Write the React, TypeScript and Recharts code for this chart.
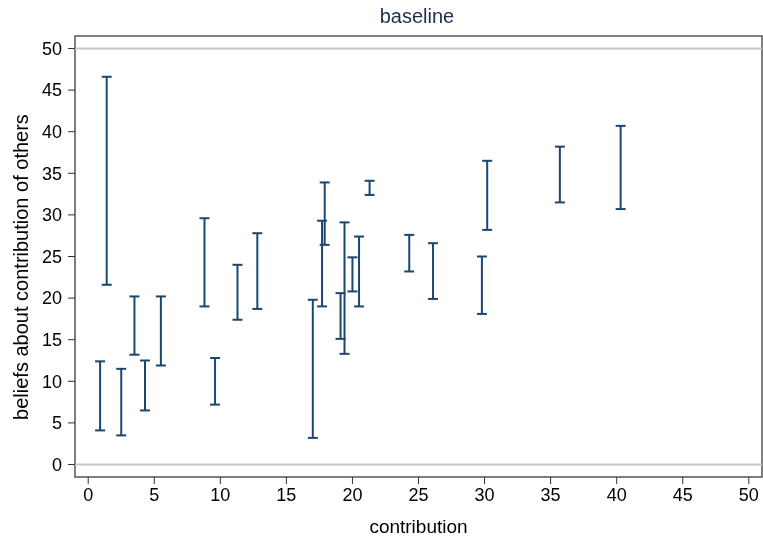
import { ScatterChart, Scatter, ErrorBar, XAxis, YAxis, ReferenceLine, ReferenceArea } from 'recharts';

// one row per subject: contribution and range of beliefs about others
const contribution = [0.9, 1.4, 2.5, 3.5, 4.3, 5.5, 8.8, 9.6, 11.3, 12.8, 17.0, 17.7, 17.9, 19.1, 19.4, 20.0, 20.5, 21.3, 24.3, 26.1, 29.8, 30.2, 35.7, 40.3];
const beliefLow = [4.1, 21.6, 3.5, 13.2, 6.5, 11.9, 19.0, 7.2, 17.4, 18.7, 3.2, 19.0, 26.4, 15.1, 13.3, 20.8, 19.0, 32.4, 23.2, 19.9, 18.1, 28.2, 31.5, 30.7];
const beliefHigh = [12.4, 46.6, 11.5, 20.2, 12.5, 20.2, 29.6, 12.8, 24.0, 27.8, 19.8, 29.3, 33.9, 20.6, 29.1, 24.9, 27.4, 34.1, 27.6, 26.6, 25.0, 36.5, 38.2, 40.7];
const xTicks = [0, 5, 10, 15, 20, 25, 30, 35, 40, 45, 50];
const yTicks = [0, 5, 10, 15, 20, 25, 30, 35, 40, 45, 50];

const rows = contribution.map((c, i) => {
  const mid = (beliefLow[i] + beliefHigh[i]) / 2;
  return { x: c, y: mid, err: [mid - beliefLow[i], beliefHigh[i] - mid] };
});

const font = '"Liberation Sans", Arial, sans-serif';
const navy = '#1a476f';

export default function App() {
  return (
    // pinned to the window corner so the chart covers the full 763x539 area
    <div style={{ position: 'fixed', left: 0, top: 0, width: 763, height: 539, fontFamily: font }}>
      <div style={{ position: 'absolute', left: 417, top: 5, transform: 'translateX(-50%)', fontSize: 20, color: '#1e2d4f', whiteSpace: 'nowrap' }}>
        baseline
      </div>
      <div style={{ position: 'absolute', left: 21, top: 267, transform: 'translate(-50%, -50%) rotate(-90deg)', fontSize: 20, color: '#000', whiteSpace: 'nowrap' }}>
        beliefs about contribution of others
      </div>
      <ScatterChart width={763} height={539} margin={{ top: 36, right: 1, left: 0, bottom: 0 }}>
        <XAxis
          type="number"
          dataKey="x"
          domain={[-1, 51]}
          ticks={xTicks}
          interval={0}
          axisLine={false}
          tickSize={7}
          tickMargin={4}
          tickLine={{ stroke: '#333' }}
          tick={{ fill: '#000', fontSize: 18, fontFamily: font }}
          height={62}
          label={{ value: 'contribution', position: 'insideBottom', offset: 6, fill: '#000', fontSize: 19, fontFamily: font }}
        />
        <YAxis
          type="number"
          dataKey="y"
          domain={[-1.5, 51.5]}
          ticks={yTicks}
          interval={0}
          axisLine={false}
          tickSize={7}
          tickMargin={6}
          tickLine={{ stroke: '#333' }}
          tick={{ fill: '#000', fontSize: 18, fontFamily: font }}
          width={75}
        />
        <ReferenceLine y={0} stroke="#c6c6c6" strokeWidth={2} />
        <ReferenceLine y={50} stroke="#c6c6c6" strokeWidth={2} />
        <ReferenceArea x1={-1} x2={51} y1={-1.5} y2={51.5} fill="none" stroke="#555" strokeWidth={1.5} />
        <Scatter data={rows} isAnimationActive={false} shape={() => <g />}>
          <ErrorBar dataKey="err" direction="y" width={5} stroke={navy} strokeWidth={2} isAnimationActive={false} />
        </Scatter>
      </ScatterChart>
    </div>
  );
}
